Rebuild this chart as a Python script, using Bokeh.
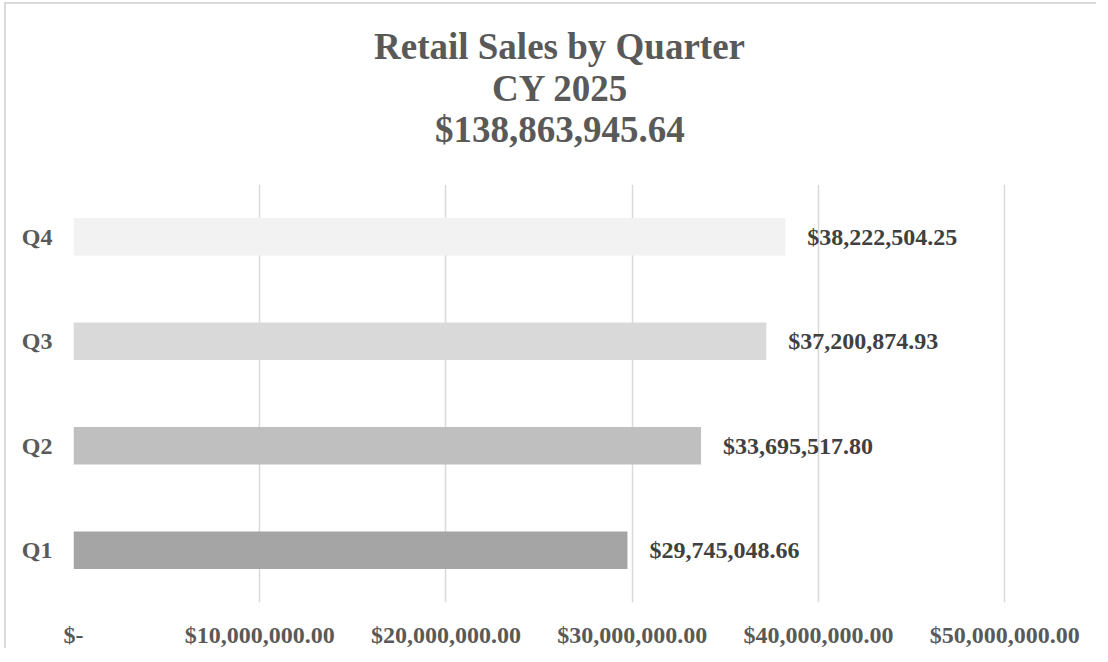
from bokeh.plotting import figure
from bokeh.models import ColumnDataSource, FixedTicker, FactorRange, Range1d, Title
from bokeh.core.properties import value
from bokeh.embed import file_html
from bokeh.resources import INLINE

quarters = ["Q1", "Q2", "Q3", "Q4"]
sales = [29745048.66, 33695517.80, 37200874.93, 38222504.25]
sales_labels = ["$29,745,048.66", "$33,695,517.80", "$37,200,874.93", "$38,222,504.25"]
bar_colors = ["#a5a5a5", "#bfbfbf", "#d9d9d9", "#f2f2f2"]
x_ticks = [0, 10000000, 20000000, 30000000, 40000000, 50000000]
x_tick_labels = ["$-", "$10,000,000.00", "$20,000,000.00", "$30,000,000.00",
                 "$40,000,000.00", "$50,000,000.00"]
title_lines = ["Retail Sales by Quarter", "CY 2025", "$138,863,945.64"]

FONT = "Liberation Serif"

src = ColumnDataSource(dict(q=quarters, v=sales, lab=sales_labels, c=bar_colors))

p = figure(width=1092, height=646, output_backend="svg", toolbar_location=None,
           y_range=FactorRange(factors=quarters, range_padding=0),
           x_range=Range1d(0, 50100000),
           min_border_left=67, min_border_right=92, min_border_top=180,
           min_border_bottom=45,
           styles={"margin-left": "4px", "margin-top": "2px",
                   "border-left": "2px solid #d9d9d9",
                   "border-top": "2px solid #d9d9d9"})

# layout of the title lines, nearest the plot first: (standoff, left offset)
title_layout = [(68.5, 361.5), (-72.5, 418.5), (10.5, 300.5)]
for line, (so, off) in zip(reversed(title_lines), title_layout):
    t = Title(text=line, align="left", offset=off, text_font=FONT,
              text_font_size="37px", text_font_style="bold",
              text_color="#595959", standoff=so)
    p.add_layout(t, "above")

p.hbar(y="q", right="v", left=0, height=0.36, fill_color="c", line_color=None, source=src)
p.text(x="v", y="q", text="lab", source=src, x_offset=22,
       text_font=value(FONT), text_font_size="24px", text_font_style="bold",
       text_color="#404040", text_baseline="middle", text_align="left")

p.outline_line_color = None
p.ygrid.grid_line_color = None
p.xgrid.grid_line_color = "#d9d9d9"
p.xgrid.grid_line_width = 1.5
p.xaxis.ticker = FixedTicker(ticks=x_ticks)
p.xaxis.major_label_overrides = {t: l for t, l in zip(x_ticks, x_tick_labels)}

for ax in (p.xaxis, p.yaxis):
    ax.axis_line_color = None
    ax.major_tick_line_color = None
    ax.minor_tick_line_color = None
    ax.major_label_text_font = FONT
    ax.major_label_text_font_size = "24px"
    ax.major_label_text_font_style = "bold"
    ax.major_label_text_color = "#595959"
p.xaxis.major_label_standoff = 13
p.yaxis.major_label_standoff = 15

open("out.html", "w").write(file_html(p, INLINE))
